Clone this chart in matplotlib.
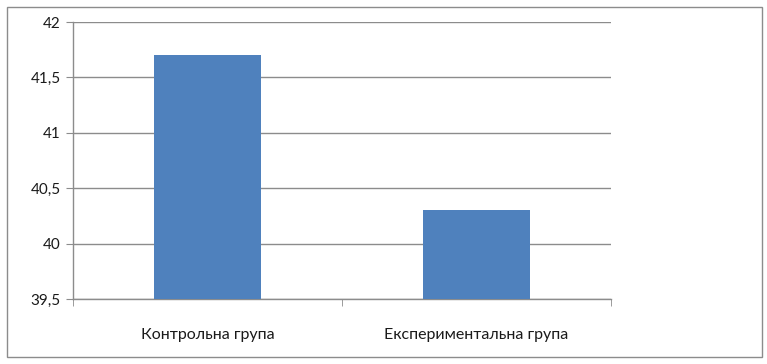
import matplotlib
matplotlib.use("Agg")
import matplotlib.pyplot as plt
from matplotlib.patches import Rectangle
from matplotlib.ticker import FuncFormatter

categories = ["Контрольна група", "Експериментальна група"]
values = [41.7, 40.3]
yticks = [39.5, 40, 40.5, 41, 41.5, 42]

plt.rcParams['font.family'] = ['Lato', 'DejaVu Sans']

fig = plt.figure(figsize=(7.67, 3.64), dpi=100)
fig.patches.append(Rectangle((7/767, 1-357/364), (762-7)/767, (357-7)/364,
                             transform=fig.transFigure, fill=False,
                             edgecolor='#8c8c8c', linewidth=1.0))
ax = fig.add_axes([73/767, 1-299/364, (611-73)/767, (299-22)/364])

x = list(range(len(categories)))
ax.bar(x, values, width=0.4, color='#4F81BD', zorder=3)
ax.set_xlim(-0.5, len(categories)-0.5)
ax.set_ylim(39.5, 42)
ax.set_yticks(yticks)
ax.yaxis.set_major_formatter(FuncFormatter(lambda v, p: (f"{v:g}").replace('.', ',')))
ax.yaxis.grid(True, color='#8c8c8c', linewidth=1.0, zorder=0)
ax.set_xticks(x)
ax.set_xticklabels(categories)
ax.set_xticks([-0.5, 0.5, 1.5], minor=True)
ax.tick_params(axis='x', which='major', length=0, pad=21, labelsize=11.5, labelcolor='#1a1a1a')
ax.tick_params(axis='x', which='minor', length=5, color='#8c8c8c', direction='out')
ax.tick_params(axis='y', length=5, color='#8c8c8c', labelsize=11, labelcolor='#1a1a1a', pad=4)
for s in ['top', 'right']:
    ax.spines[s].set_visible(False)
for s in ['left', 'bottom']:
    ax.spines[s].set_color('#8c8c8c')
    ax.spines[s].set_linewidth(1.0)

fig.savefig("out.png", dpi=100)
